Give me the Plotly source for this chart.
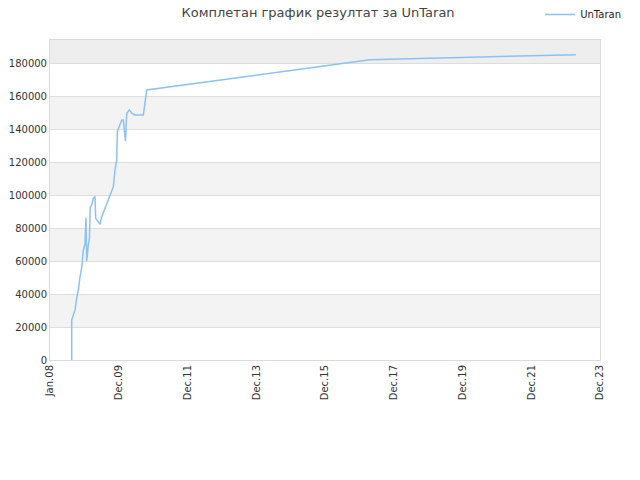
import pandas as pd
import plotly.graph_objects as go

# --- Data ---
dates = [
    "2008-08-18", "2008-08-18", "2008-09-04", "2008-09-22", "2008-10-10",
    "2008-10-27", "2008-11-14", "2008-12-02", "2008-12-19", "2009-01-06",
    "2009-01-16", "2009-01-24", "2009-02-10", "2009-02-22", "2009-03-02",
    "2009-03-18", "2009-04-04", "2009-04-22", "2009-04-29", "2009-05-27",
    "2009-06-14", "2009-07-02", "2009-08-06", "2009-09-10", "2009-11-02",
    "2009-11-20", "2009-12-08", "2009-12-14", "2010-01-04", "2010-01-19",
    "2010-01-30", "2010-02-16", "2010-02-28", "2010-03-11", "2010-03-24",
    "2010-04-20", "2010-05-16", "2010-06-20", "2010-09-16", "2010-10-04",
    "2010-10-22", "2017-04-11", "2023-04-04",
]
scores = [
    0, 24300, 27400, 30400, 37700,
    42500, 50600, 56000, 66900, 70500,
    86500, 60000, 70000, 74000, 92500,
    94200, 98300, 99300, 86100, 84100,
    82500, 87100, 92200, 97300, 105300,
    115500, 121600, 138800, 141800, 143900,
    145900, 145900, 138000, 133000, 150000,
    152000, 150000, 148900, 148900, 156000,
    164100, 182500, 185600,
]
player = "UnTaran"
title = "Комплетан график резултат за UnTaran"

x_start, x_end = "2008-01-01", "2023-12-15"
tick_text = ["Jan.08", "Dec.09", "Dec.11", "Dec.13", "Dec.15",
             "Dec.17", "Dec.19", "Dec.21", "Dec.23"]
y_max = 194500
y_step = 20000

tick_vals = pd.date_range(x_start, x_end, periods=len(tick_text))

fig = go.Figure()
fig.add_trace(go.Scatter(
    x=dates, y=scores, mode="lines", name=player,
    line=dict(color="#8DC1F2", width=1.5),
))

# alternating background bands
shapes = []
lo = 0
i = 0
while lo < y_max:
    hi = min(lo + y_step, y_max)
    if lo >= 180000:
        col = "#EEEEEE"
    elif i % 2 == 1:
        col = "#F3F3F3"
    else:
        col = None
    if col:
        shapes.append(dict(type="rect", xref="paper", yref="y", x0=0, x1=1,
                           y0=lo, y1=hi, fillcolor=col, line_width=0,
                           layer="below"))
    lo += y_step
    i += 1

font = "DejaVu Sans"
fig.update_layout(
    width=640, height=480,
    margin=dict(l=50, r=40, t=40, b=120, autoexpand=False),
    paper_bgcolor="white", plot_bgcolor="white",
    font=dict(family=font, size=10, color="#333333"),
    title=dict(text=title, x=0.497, xref="container", y=0.975, yanchor="middle",
               font=dict(family=font, size=13, color="#444444")),
    shapes=shapes,
    showlegend=True,
    legend=dict(xref="container", yref="container", x=0.844, y=1.02,
                xanchor="left", yanchor="top", bgcolor="rgba(0,0,0,0)",
                font=dict(size=10, color="#222222"), itemwidth=30),
    xaxis=dict(type="date", range=[x_start, x_end], tickvals=tick_vals,
               ticktext=tick_text, tickangle=-90, showgrid=False,
               zeroline=False, showline=True, mirror=True,
               linecolor="#DADADA", linewidth=1, ticks=""),
    yaxis=dict(range=[0, y_max], dtick=y_step, tick0=0, showgrid=True,
               gridcolor="#DDDDDD", gridwidth=1, zeroline=False,
               showline=True, mirror=True, linecolor="#DADADA",
               linewidth=1, ticks="", tickformat="d"),
)

# drop the default page margin so the figure sits at the window's corner
fig.write_html("out.html", config={"displayModeBar": False},
               post_script="document.body.style.margin='0';")
